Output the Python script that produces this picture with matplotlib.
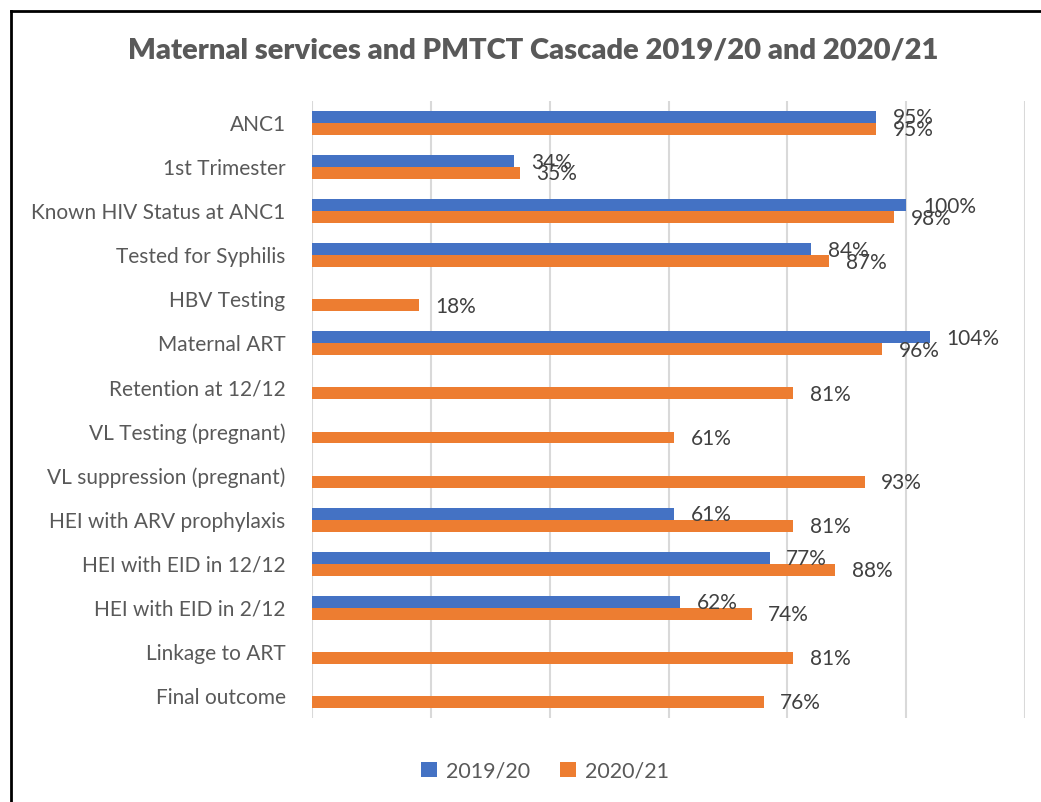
import numpy as np
import matplotlib.pyplot as plt
from matplotlib.lines import Line2D

categories = ['ANC1', '1st Trimester', 'Known HIV Status at ANC1', 'Tested for Syphilis',
              'HBV Testing', 'Maternal ART', 'Retention at 12/12', 'VL Testing (pregnant)',
              'VL suppression (pregnant)', 'HEI with ARV prophylaxis', 'HEI with EID in 12/12',
              'HEI with EID in 2/12', 'Linkage to ART', 'Final outcome']
y2019 = [95, 34, 100, 84, np.nan, 104, np.nan, np.nan, np.nan, 61, 77, 62, np.nan, np.nan]
y2020 = [95, 35, 98, 87, 18, 96, 81, 61, 93, 81, 88, 74, 81, 76]
series = ['2019/20', '2020/21']
colors = ['#4472C4', '#ED7D31']

plt.rcParams['font.family'] = ['Lato', 'DejaVu Sans']

W, H = 1041, 802
fig = plt.figure(figsize=(W / 100, H / 100), dpi=100)
ax = fig.add_axes([312 / W, 1 - 718 / H, (1025 - 312) / W, (718 - 101) / H])

pos = np.arange(len(categories))
h = 0.27
for vals, off, col, name in [(y2019, -h / 2, colors[0], series[0]),
                             (y2020, h / 2, colors[1], series[1])]:
    ax.barh(pos + off, vals, height=h, color=col, label=name, zorder=3)
    for p, v in zip(pos, vals):
        if np.isnan(v):
            continue
        # labels overlap in the original too, left as is
        ax.annotate(f'{v:.0f}%', (v, p + off), xytext=(12, -1), textcoords='offset points',
                    va='center', ha='left', fontsize=15, color='#404040', zorder=4)

ax.set_xlim(0, 120)
ax.set_ylim(len(categories) - 0.5, -0.5)
ax.set_xticks(np.arange(0, 121, 20))
ax.set_xticklabels([])
ax.set_yticks(pos)
ax.set_yticklabels(categories, fontsize=15, color='#595959')
ax.tick_params(axis='y', length=0, pad=19)
ax.tick_params(axis='x', length=0)
ax.grid(axis='x', color='#D9D9D9', linewidth=1.5, zorder=0)
for s in ax.spines.values():
    s.set_visible(False)

fig.text(533 / W, 1 - 50 / H, 'Maternal services and PMTCT Cascade 2019/20 and 2020/21',
         ha='center', va='center', fontsize=21, fontweight='heavy', color='#595959')

fig.legend(loc='center', bbox_to_anchor=(545 / W, 1 - 771 / H), ncol=2, frameon=False,
           fontsize=15.5, labelcolor='#595959', handlelength=0.75, handleheight=0.75,
           handletextpad=0.4, columnspacing=1.4)

fig.add_artist(Line2D([10.5 / W, 10.5 / W], [0, 1 - 10.5 / H], color='black', lw=2, transform=fig.transFigure))
fig.add_artist(Line2D([10.5 / W, 1], [1 - 10.5 / H, 1 - 10.5 / H], color='black', lw=2, transform=fig.transFigure))

fig.savefig('out.png', dpi=100, facecolor='white')
